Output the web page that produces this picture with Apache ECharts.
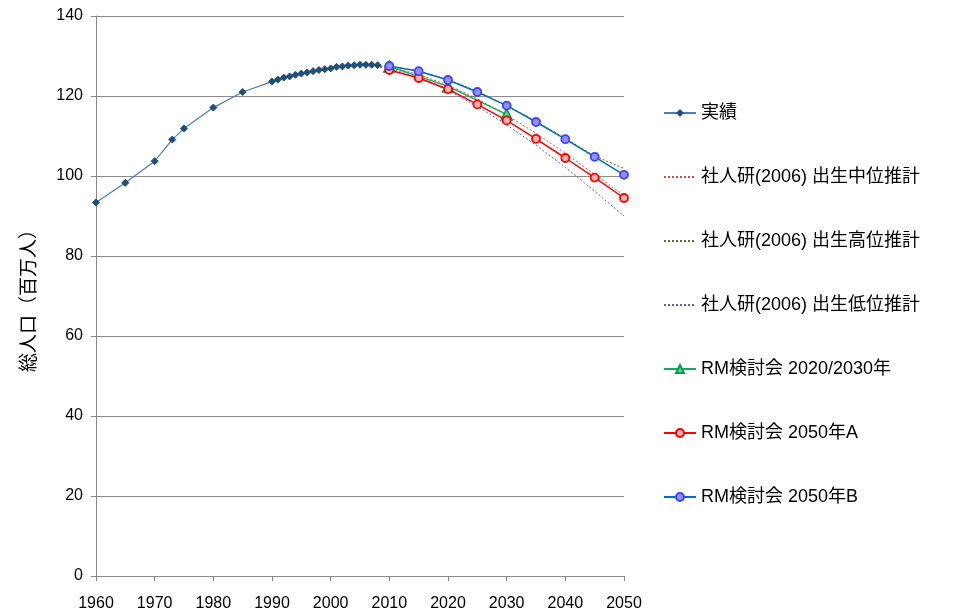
<!DOCTYPE html>
<html><head><meta charset="utf-8">
<script src="https://cdn.jsdelivr.net/npm/echarts@6/dist/echarts.min.js"></script>
<style>html,body{margin:0;padding:0;background:#fff}#c{width:953px;height:616px}</style>
</head><body><div id="c"></div>
<script>
const actualYears = [1960,1965,1970,1973,1975,1980,1985,1990,1991,1992,1993,1994,1995,1996,1997,1998,1999,2000,2001,2002,2003,2004,2005,2006,2007,2008];
const actualValues = [93.4,98.3,103.7,109.1,111.9,117.1,121.0,123.6,124.1,124.6,124.9,125.3,125.6,125.9,126.2,126.5,126.7,126.9,127.3,127.4,127.6,127.7,127.8,127.8,127.8,127.7];
const projYears = [2005,2010,2015,2020,2025,2030,2035,2040,2045,2050];
const ipssMedium = [127.8,127.2,125.4,122.7,119.3,115.2,110.7,105.7,100.4,95.2];
const ipssHigh = [127.8,127.4,126.3,124.1,121.2,117.6,113.7,109.4,105.0,101.9];
const ipssLow = [127.8,126.9,124.6,121.4,117.4,112.8,107.7,102.2,96.2,90.0];
const rmYears = [2010,2015,2020,2025,2030,2035,2040,2045,2050];
const rm2050A = [126.5,124.5,121.7,117.9,113.9,109.3,104.5,99.6,94.5];
const rm2050B = [127.5,126.2,124.0,121.0,117.6,113.5,109.2,104.8,100.3];
const rm2030Years = [2010,2020,2030];
const rm2030Values = [127.4,122.4,115.4];
const xTicks = [1960,1970,1980,1990,2000,2010,2020,2030,2040,2050];
const yTicks = [0,20,40,60,80,100,120,140];
const names = ['実績','社人研(2006) 出生中位推計','社人研(2006) 出生高位推計','社人研(2006) 出生低位推計','RM検討会 2020/2030年','RM検討会 2050年A','RM検討会 2050年B'];

const zip = (xs, ys) => xs.map((x, i) => [x, ys[i]]);
const font = '"Liberation Sans", Arial, "Noto Sans CJK JP", sans-serif';
const chart = echarts.init(document.getElementById('c'));
const legendData = names.map((n, i) => (i >= 1 && i <= 3) ? {name: n, itemStyle: {opacity: 0}} : {name: n});
chart.setOption({
  animation: false,
  textStyle: {fontFamily: font},
  grid: {left: 96, right: 329, top: 16, bottom: 40},
  xAxis: {
    type: 'value', min: 1960, max: 2050, interval: 10,
    axisLine: {show: true, lineStyle: {color: '#888', width: 1}},
    axisTick: {show: true, length: 5, lineStyle: {color: '#888'}},
    axisLabel: {color: '#000', fontSize: 16, margin: 20, fontFamily: font, formatter: v => String(v)},
    splitLine: {show: false}
  },
  yAxis: {
    type: 'value', min: 0, max: 140, interval: 20,
    name: '総人口（百万人）', nameLocation: 'middle', nameRotate: 90, nameGap: 57,
    nameTextStyle: {fontSize: 19, color: '#000', fontFamily: font},
    axisLine: {show: true, lineStyle: {color: '#888', width: 1}},
    axisTick: {show: true, length: 5, lineStyle: {color: '#888'}},
    axisLabel: {color: '#000', fontSize: 16, margin: 13, fontFamily: font},
    splitLine: {show: true, lineStyle: {color: '#8c8c8c', width: 1}}
  },
  legend: {
    orient: 'vertical', left: 658, top: 99,
    itemWidth: 32, itemHeight: 10, itemGap: 46,
    textStyle: {fontSize: 18, color: '#000', fontFamily: font},
    data: legendData
  },
  series: [
    {name: names[0], type: 'line', data: zip(actualYears, actualValues), symbol: 'diamond', symbolSize: 7,
     lineStyle: {color: '#4a7ebb', width: 1.2}, itemStyle: {color: '#1f4e79', borderColor: '#1f4e79'}, z: 5},
    {name: names[1], type: 'line', data: zip(projYears, ipssMedium), symbol: 'none',
     lineStyle: {color: '#c0504d', width: 1, type: [2, 2]}, itemStyle: {color: '#c0504d'}},
    {name: names[2], type: 'line', data: zip(projYears, ipssHigh), symbol: 'none',
     lineStyle: {color: '#5f6b2a', width: 1, type: [2, 2]}, itemStyle: {color: '#5f6b2a'}},
    {name: names[3], type: 'line', data: zip(projYears, ipssLow), symbol: 'none',
     lineStyle: {color: '#6a5a9e', width: 1, type: [2, 2]}, itemStyle: {color: '#6a5a9e'}},
    {name: names[4], type: 'line', data: zip(rm2030Years, rm2030Values), symbol: 'triangle', symbolSize: 11,
     lineStyle: {color: '#1aa85a', width: 1.5}, itemStyle: {color: '#5fd38a', borderColor: '#00a050', borderWidth: 1.5}, z: 3},
    {name: names[5], type: 'line', data: zip(rmYears, rm2050A), symbol: 'circle', symbolSize: 8,
     lineStyle: {color: '#ff0000', width: 1.5}, itemStyle: {color: '#ffb0b0', borderColor: '#ff0000', borderWidth: 1.8}, z: 4},
    {name: names[6], type: 'line', data: zip(rmYears, rm2050B), symbol: 'circle', symbolSize: 8,
     lineStyle: {color: '#0070c0', width: 1.5}, itemStyle: {color: '#9090ff', borderColor: '#4040ff', borderWidth: 1.8}, z: 4}
  ]
});
</script></body></html>
